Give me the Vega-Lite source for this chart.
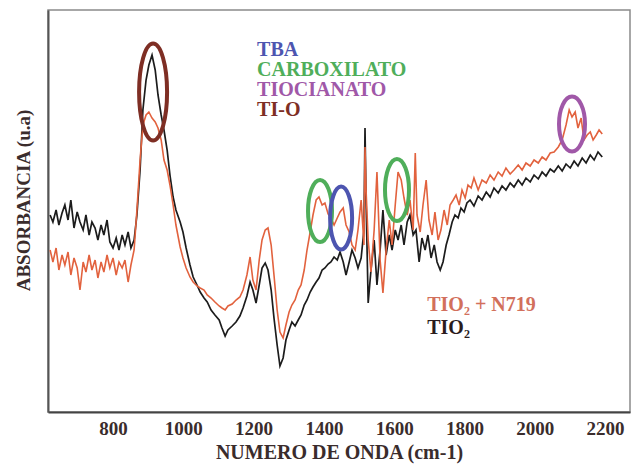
{
  "$schema": "https://vega.github.io/schema/vega-lite/v6.json",
  "width": 582,
  "height": 402,
  "autosize": {"type": "none"},
  "padding": {"left": 48, "top": 10, "right": 5, "bottom": 55},
  "background": "white",
  "config": {
    "font": "Liberation Serif",
    "view": {"stroke": "#8a8a8a", "strokeWidth": 1.5}
  },
  "datasets": {
    "tio2": [
      {"x":621,"y":197},{"x":629,"y":190},{"x":638,"y":202},{"x":646,"y":187},{"x":655,"y":199},{"x":663,"y":207},{"x":672,"y":192},{"x":680,"y":212},{"x":689,"y":184},{"x":698,"y":200},
      {"x":706,"y":190},{"x":715,"y":182},{"x":723,"y":197},{"x":732,"y":177},{"x":740,"y":190},{"x":749,"y":184},{"x":757,"y":172},{"x":766,"y":187},{"x":774,"y":177},{"x":783,"y":192},
      {"x":791,"y":170},{"x":800,"y":164},{"x":809,"y":174},{"x":817,"y":162},{"x":826,"y":177},{"x":834,"y":167},{"x":843,"y":180},{"x":851,"y":164},{"x":860,"y":172},{"x":868,"y":197},
      {"x":877,"y":242},{"x":885,"y":302},{"x":894,"y":332},{"x":902,"y":347},{"x":911,"y":357},{"x":920,"y":342},{"x":928,"y":317},{"x":937,"y":297},{"x":945,"y":282},{"x":954,"y":262},
      {"x":962,"y":237},{"x":971,"y":215},{"x":979,"y":202},{"x":991,"y":190},{"x":999,"y":180},{"x":1008,"y":164},{"x":1019,"y":147},{"x":1028,"y":135},{"x":1039,"y":127},{"x":1048,"y":120},
      {"x":1059,"y":114},{"x":1068,"y":110},{"x":1079,"y":102},{"x":1090,"y":97},{"x":1102,"y":92},{"x":1110,"y":84},{"x":1119,"y":76},{"x":1127,"y":82},{"x":1139,"y":86},{"x":1150,"y":90},
      {"x":1161,"y":96},{"x":1170,"y":104},{"x":1181,"y":116},{"x":1190,"y":130},{"x":1198,"y":122},{"x":1207,"y":109},{"x":1216,"y":127},{"x":1224,"y":144},{"x":1233,"y":149},{"x":1241,"y":142},
      {"x":1250,"y":122},{"x":1258,"y":94},{"x":1267,"y":67},{"x":1275,"y":46},{"x":1284,"y":54},{"x":1292,"y":72},{"x":1301,"y":82},{"x":1309,"y":90},{"x":1318,"y":86},{"x":1327,"y":92},
      {"x":1335,"y":97},{"x":1344,"y":107},{"x":1352,"y":112},{"x":1361,"y":120},{"x":1369,"y":125},{"x":1378,"y":130},{"x":1386,"y":134},{"x":1395,"y":142},{"x":1403,"y":144},{"x":1412,"y":148},
      {"x":1420,"y":150},{"x":1429,"y":155},{"x":1438,"y":152},{"x":1446,"y":160},{"x":1455,"y":150},{"x":1463,"y":137},{"x":1472,"y":150},{"x":1480,"y":162},{"x":1489,"y":154},{"x":1497,"y":144},
      {"x":1506,"y":154},{"x":1514,"y":182},{"x":1517,"y":284},{"x":1520,"y":212},{"x":1526,"y":109},{"x":1534,"y":142},{"x":1543,"y":172},{"x":1551,"y":127},{"x":1560,"y":162},{"x":1568,"y":202},
      {"x":1577,"y":157},{"x":1586,"y":177},{"x":1594,"y":162},{"x":1603,"y":182},{"x":1611,"y":172},{"x":1620,"y":187},{"x":1628,"y":167},{"x":1637,"y":190},{"x":1645,"y":197},{"x":1654,"y":177},
      {"x":1662,"y":182},{"x":1671,"y":150},{"x":1679,"y":174},{"x":1688,"y":162},{"x":1696,"y":177},{"x":1705,"y":154},{"x":1714,"y":167},{"x":1722,"y":150},{"x":1731,"y":142},{"x":1739,"y":150},
      {"x":1748,"y":167},{"x":1756,"y":177},{"x":1765,"y":190},{"x":1773,"y":197},{"x":1782,"y":194},{"x":1790,"y":204},{"x":1799,"y":200},{"x":1807,"y":209},{"x":1816,"y":212},{"x":1827,"y":206},
      {"x":1839,"y":216},{"x":1850,"y":212},{"x":1862,"y":220},{"x":1873,"y":215},{"x":1884,"y":224},{"x":1896,"y":219},{"x":1907,"y":226},{"x":1918,"y":222},{"x":1930,"y":229},{"x":1941,"y":225},
      {"x":1953,"y":232},{"x":1964,"y":227},{"x":1975,"y":234},{"x":1987,"y":230},{"x":1998,"y":237},{"x":2010,"y":233},{"x":2021,"y":240},{"x":2032,"y":236},{"x":2044,"y":243},{"x":2055,"y":240},
      {"x":2067,"y":246},{"x":2078,"y":241},{"x":2089,"y":248},{"x":2101,"y":244},{"x":2112,"y":251},{"x":2123,"y":246},{"x":2135,"y":254},{"x":2146,"y":249},{"x":2158,"y":257},{"x":2169,"y":252},
      {"x":2180,"y":260},{"x":2192,"y":255}
    ],
    "n719": [
      {"x":621,"y":162},{"x":629,"y":150},{"x":638,"y":164},{"x":646,"y":142},{"x":655,"y":157},{"x":663,"y":147},{"x":672,"y":160},{"x":680,"y":137},{"x":689,"y":154},{"x":698,"y":144},
      {"x":706,"y":122},{"x":715,"y":150},{"x":723,"y":140},{"x":732,"y":157},{"x":740,"y":142},{"x":749,"y":152},{"x":757,"y":134},{"x":766,"y":150},{"x":774,"y":140},{"x":783,"y":157},
      {"x":791,"y":144},{"x":800,"y":154},{"x":809,"y":137},{"x":817,"y":150},{"x":826,"y":144},{"x":834,"y":152},{"x":843,"y":130},{"x":851,"y":147},{"x":860,"y":162},{"x":868,"y":202},
      {"x":877,"y":252},{"x":885,"y":287},{"x":894,"y":297},{"x":902,"y":300},{"x":911,"y":294},{"x":920,"y":290},{"x":928,"y":284},{"x":937,"y":272},{"x":945,"y":252},{"x":954,"y":242},
      {"x":962,"y":227},{"x":971,"y":207},{"x":979,"y":187},{"x":991,"y":165},{"x":999,"y":154},{"x":1008,"y":144},{"x":1019,"y":135},{"x":1028,"y":130},{"x":1039,"y":126},{"x":1048,"y":124},
      {"x":1059,"y":122},{"x":1068,"y":117},{"x":1079,"y":114},{"x":1090,"y":110},{"x":1102,"y":106},{"x":1110,"y":104},{"x":1119,"y":102},{"x":1127,"y":106},{"x":1139,"y":108},{"x":1150,"y":112},
      {"x":1161,"y":115},{"x":1170,"y":122},{"x":1181,"y":137},{"x":1190,"y":155},{"x":1198,"y":132},{"x":1207,"y":122},{"x":1216,"y":152},{"x":1224,"y":172},{"x":1233,"y":182},{"x":1241,"y":184},
      {"x":1250,"y":167},{"x":1258,"y":137},{"x":1267,"y":102},{"x":1275,"y":80},{"x":1284,"y":74},{"x":1292,"y":87},{"x":1301,"y":100},{"x":1309,"y":107},{"x":1318,"y":112},{"x":1327,"y":122},
      {"x":1335,"y":127},{"x":1344,"y":142},{"x":1352,"y":162},{"x":1361,"y":180},{"x":1369,"y":197},{"x":1378,"y":212},{"x":1386,"y":215},{"x":1395,"y":207},{"x":1403,"y":209},{"x":1412,"y":198},
      {"x":1420,"y":194},{"x":1429,"y":187},{"x":1438,"y":194},{"x":1446,"y":200},{"x":1455,"y":204},{"x":1463,"y":187},{"x":1472,"y":180},{"x":1480,"y":167},{"x":1489,"y":162},{"x":1497,"y":182},
      {"x":1506,"y":212},{"x":1514,"y":167},{"x":1517,"y":265},{"x":1520,"y":222},{"x":1526,"y":172},{"x":1534,"y":140},{"x":1543,"y":182},{"x":1551,"y":240},{"x":1560,"y":152},{"x":1568,"y":119},
      {"x":1577,"y":162},{"x":1586,"y":192},{"x":1594,"y":167},{"x":1603,"y":207},{"x":1611,"y":240},{"x":1620,"y":232},{"x":1628,"y":214},{"x":1637,"y":197},{"x":1645,"y":212},{"x":1654,"y":182},
      {"x":1660,"y":259},{"x":1665,"y":197},{"x":1674,"y":180},{"x":1682,"y":207},{"x":1691,"y":232},{"x":1699,"y":192},{"x":1708,"y":177},{"x":1716,"y":200},{"x":1725,"y":172},{"x":1733,"y":182},
      {"x":1742,"y":202},{"x":1751,"y":187},{"x":1759,"y":207},{"x":1768,"y":212},{"x":1776,"y":217},{"x":1785,"y":207},{"x":1793,"y":222},{"x":1802,"y":214},{"x":1810,"y":227},{"x":1819,"y":224},
      {"x":1827,"y":234},{"x":1839,"y":222},{"x":1850,"y":232},{"x":1862,"y":229},{"x":1873,"y":237},{"x":1884,"y":232},{"x":1896,"y":240},{"x":1907,"y":236},{"x":1918,"y":244},{"x":1930,"y":238},
      {"x":1941,"y":242},{"x":1953,"y":247},{"x":1964,"y":242},{"x":1975,"y":249},{"x":1987,"y":246},{"x":1998,"y":252},{"x":2010,"y":249},{"x":2021,"y":255},{"x":2032,"y":252},{"x":2044,"y":259},
      {"x":2055,"y":260},{"x":2067,"y":265},{"x":2078,"y":272},{"x":2089,"y":287},{"x":2098,"y":302},{"x":2106,"y":295},{"x":2115,"y":300},{"x":2123,"y":284},{"x":2132,"y":294},{"x":2140,"y":272},
      {"x":2149,"y":277},{"x":2158,"y":280},{"x":2166,"y":272},{"x":2175,"y":277},{"x":2183,"y":282},{"x":2192,"y":278}
    ],
    "ellipses": [
      {"etiqueta": "TI-O", "x": 914, "y": 320},
      {"etiqueta": "CARBOXILATO", "x": 1389, "y": 201},
      {"etiqueta": "TBA", "x": 1449, "y": 194},
      {"etiqueta": "CARBOXILATO", "x": 1608, "y": 222},
      {"etiqueta": "TIOCIANATO", "x": 2106, "y": 288}
    ],
    "labels": [
      {"etiqueta": "TBA", "x": 1210, "y": 362},
      {"etiqueta": "CARBOXILATO", "x": 1210, "y": 342},
      {"etiqueta": "TIOCIANATO", "x": 1210, "y": 322},
      {"etiqueta": "TI-O", "x": 1210, "y": 302},
      {"etiqueta": "TIO₂ + N719", "x": 1694, "y": 107},
      {"etiqueta": "TIO₂", "x": 1694, "y": 84}
    ]
  },
  "encoding": {
    "x": {
      "field": "x", "type": "quantitative",
      "scale": {"domain": [615, 2271], "nice": false, "zero": false},
      "axis": {
        "values": [800, 1000, 1200, 1400, 1600, 1800, 2000, 2200],
        "format": "d",
        "title": "NUMERO DE ONDA (cm-1)",
        "grid": false, "ticks": false,
        "labelFont": "Liberation Serif", "labelFontSize": 19, "labelFontWeight": "bold", "labelColor": "#3a2c2c",
        "labelPadding": 7,
        "titleFont": "Liberation Serif", "titleFontSize": 20, "titleFontWeight": "bold", "titleColor": "#3a2c2c",
        "titlePadding": 4,
        "domainColor": "#444444", "domainWidth": 2
      }
    },
    "y": {
      "field": "y", "type": "quantitative",
      "scale": {"domain": [0, 402], "nice": false, "zero": false},
      "axis": {
        "title": "ABSORBANCIA (u.a)",
        "grid": false, "ticks": false, "labels": false,
        "titleFont": "Liberation Serif", "titleFontSize": 19, "titleFontWeight": "bold", "titleColor": "#3a2c2c",
        "titlePadding": 15,
        "titleY": 190,
        "domainColor": "#555555", "domainWidth": 2
      }
    }
  },
  "layer": [
    {
      "data": {"name": "tio2"},
      "mark": {"type": "line", "color": "#1c1c1c", "strokeWidth": 1.7, "interpolate": "linear"}
    },
    {
      "data": {"name": "n719"},
      "mark": {"type": "line", "color": "#e2623e", "strokeWidth": 1.6, "interpolate": "linear"}
    },
    {
      "data": {"name": "ellipses"},
      "mark": {"type": "point", "filled": false, "strokeWidth": 4, "size": 10000, "opacity": 1},
      "encoding": {
        "shape": {
          "field": "etiqueta", "type": "nominal", "legend": null,
          "scale": {
            "domain": ["TBA", "CARBOXILATO", "TIOCIANATO", "TI-O"],
            "range": [
              "M0,-0.63A0.22,0.63 0 1,1 0,0.63A0.22,0.63 0 1,1 0,-0.63Z",
              "M0,-0.62A0.24,0.62 0 1,1 0,0.62A0.24,0.62 0 1,1 0,-0.62Z",
              "M0,-0.55A0.26,0.55 0 1,1 0,0.55A0.26,0.55 0 1,1 0,-0.55Z",
              "M0,-0.97A0.28,0.97 0 1,1 0,0.97A0.28,0.97 0 1,1 0,-0.97Z"
            ]
          }
        },
        "color": {
          "field": "etiqueta", "type": "nominal", "legend": null,
          "scale": {
            "domain": ["TBA", "CARBOXILATO", "TIOCIANATO", "TI-O", "TIO₂ + N719", "TIO₂"],
            "range": ["#4d55b0", "#4fae5a", "#a058a8", "#7e2e24", "#d2705c", "#2a1c1c"]
          }
        }
      }
    },
    {
      "data": {"name": "labels"},
      "mark": {"type": "text", "align": "left", "baseline": "middle", "font": "Liberation Serif", "fontSize": 20, "fontWeight": "bold"},
      "encoding": {
        "text": {"field": "etiqueta", "type": "nominal"},
        "color": {"field": "etiqueta", "type": "nominal", "legend": null}
      }
    }
  ]
}
